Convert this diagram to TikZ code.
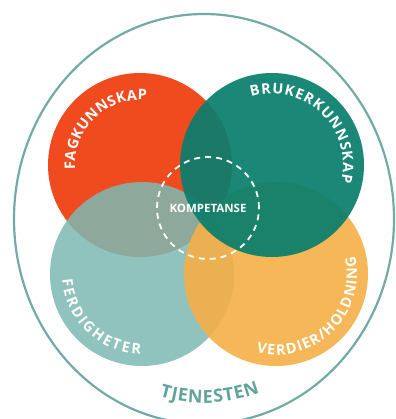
\documentclass[tikz,border=0pt]{standalone}
\usepackage{fontspec}
\setmainfont{Open Sans}
\usepackage{xcolor}
\usetikzlibrary{shapes.geometric,decorations.text,calc}

\definecolor{fagred}{RGB}{240,75,30}
\definecolor{brukgreen}{RGB}{10,126,109}
\definecolor{ferdteal}{RGB}{125,185,178}
\definecolor{verdyellow}{RGB}{245,175,70}
\definecolor{tjenline}{RGB}{112,172,164}
\definecolor{tjentext}{RGB}{96,163,155}

\tikzset{
  blob/.style={circle, inner sep=0pt, minimum size=184pt},
  arclabel/.style={decorate, decoration={text along path, text align=fit to path,
    text={|\fontsize{14.5}{17}\selectfont\bfseries\color{white}|#1}}}
}

\begin{document}
\begin{tikzpicture}[x=1pt,y=1pt]
\useasboundingbox (0,0) rectangle (395,-419);
\node[ellipse, draw=tjenline, line width=2.2pt, inner sep=0pt, minimum width=380pt, minimum height=410pt] (tjenesten) at (204,-219) {};
\node[blob, fill=fagred] (fag) at (140,-165) {};
\node[blob, fill=ferdteal, fill opacity=0.85] (ferd) at (142,-274) {};
\node[blob, fill=verdyellow, fill opacity=0.9] (verd) at (276,-274) {};
\node[blob, fill=brukgreen, fill opacity=0.93] (bruk) at (272,-165) {};
\node[circle, draw=white, line width=1.8pt, dash pattern=on 6pt off 5pt, minimum size=102pt,
  font=\fontsize{11.5}{13}\selectfont\bfseries, text=white] (komp) at (208,-208) {KOMPETANSE};
\path[arclabel=FAGKUNNSKAP] ($(fag)+(184:65)$) arc[start angle=184, end angle=84, radius=65];
\path[arclabel=BRUKERKUNNSKAP] ($(bruk)+(107:71)$) arc[start angle=107, end angle=-14, radius=71];
\path[arclabel=FERDIGHETER] ($(ferd)+(184:80)$) arc[start angle=184, end angle=269, radius=80];
\path[arclabel=VERDIER/HOLDNING] ($(verd)+(256:81)$) arc[start angle=256, end angle=373, radius=81];
\path[decorate, decoration={text along path, text align=fit to path,
    text={|\fontsize{18}{21}\selectfont\bfseries\color{tjentext}|TJENESTEN}}]
  ($(tjenesten)+(255:171 and 184)$) arc[start angle=255, end angle=289, x radius=171, y radius=184];
\end{tikzpicture}
\end{document}
